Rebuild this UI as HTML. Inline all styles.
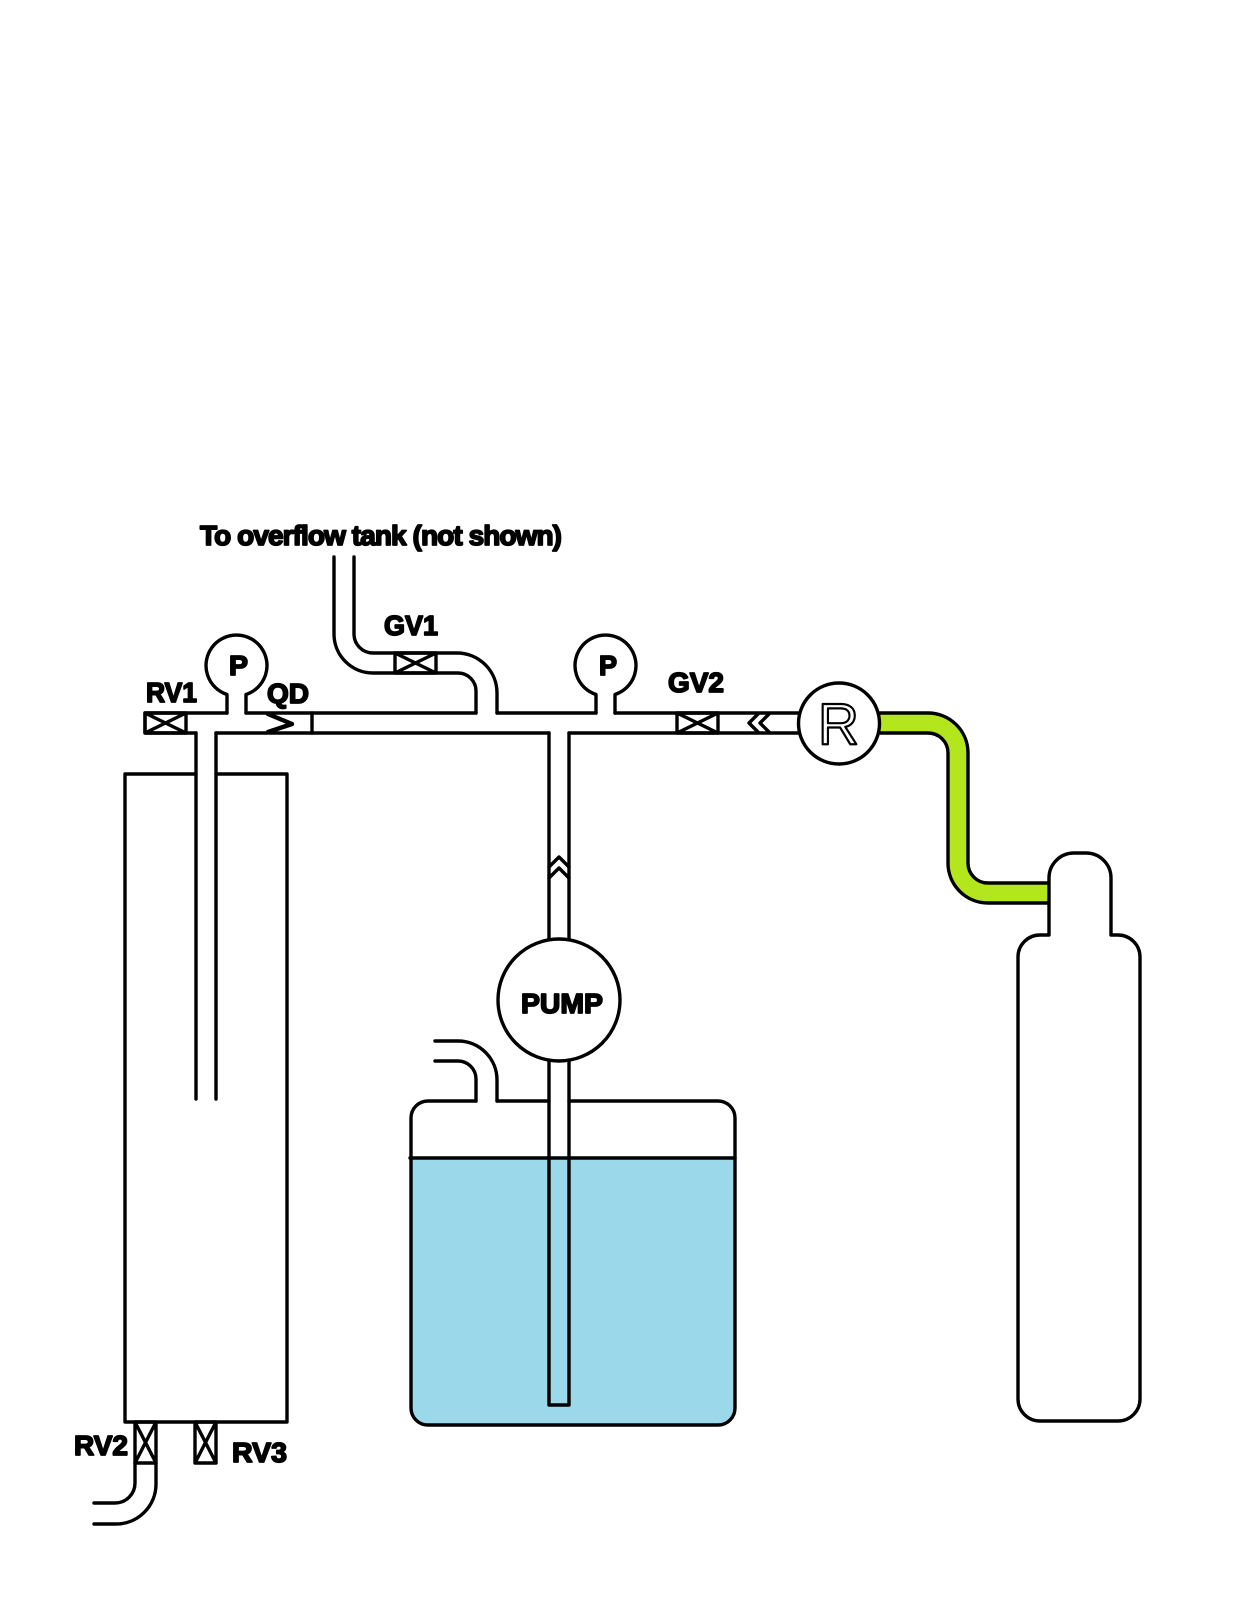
<!DOCTYPE html>
<html>
<head>
<meta charset="utf-8">
<style>
html,body{margin:0;padding:0;background:#fff}
svg{display:block}
text{font-family:"Liberation Sans",sans-serif;font-weight:bold;font-size:28px;fill:#000;stroke:#000;stroke-width:1.7;stroke-linejoin:round}
</style>
</head>
<body>
<svg width="1237" height="1600" viewBox="0 0 1237 1600" xmlns="http://www.w3.org/2000/svg">
<g fill="none" stroke="#000" stroke-width="3.4" stroke-linecap="round" stroke-linejoin="round">
  <!-- water -->
  <path d="M411 1158H735V1408a17 17 0 0 1-17 17H428a17 17 0 0 1-17-17Z" fill="#9bd9ea" stroke="none"/>
  <!-- water tank -->
  <path d="M476 1101H428a17 17 0 0 0-17 17V1408a17 17 0 0 0 17 17H718a17 17 0 0 0 17-17V1118a17 17 0 0 0-17-17H569M549 1101H497"/>
  <path d="M410 1158H735"/>
  <!-- tank inlet -->
  <path d="M435 1041H458a39 39 0 0 1 39 39V1101M435 1061H458a18 18 0 0 1 18 18V1101"/>
  <!-- pump pipe -->
  <path d="M549 733V939M569 733V939M549 1061V1405H569V1061"/>
  <!-- main line -->
  <path d="M227 713H145V733H196M246 713H476M497 713H596M615 713H798M216 733H549M569 733H798"/>
  <path d="M312 713V733"/>
  <!-- left column -->
  <path d="M196 733V1099M216 733V1099"/>
  <path d="M196 774H125V1422H287V774H216"/>
  <!-- gauges -->
  <path d="M227 713V694.5A30.5 30.5 0 1 1 246 694.5V713"/>
  <path d="M596 713V694.5A30.5 30.5 0 1 1 615 694.5V713"/>
  <!-- overflow pipe -->
  <path d="M334 557V634a39 39 0 0 0 39 39H458a18 18 0 0 1 18 18V713"/>
  <path d="M354 557V634a19 19 0 0 0 19 19H457a40 40 0 0 1 40 40V713"/>
  <!-- valves -->
  <path d="M145 713H186V733H145ZM145 713L186 733M186 713L145 733"/>
  <path d="M395 653H436V673H395ZM395 653L436 673M436 653L395 673"/>
  <path d="M677 713H718V733H677ZM677 713L718 733M718 713L677 733"/>
  <path d="M135 1422H156V1463H135ZM135 1422L156 1463M156 1422L135 1463"/>
  <path d="M195 1422H216V1463H195ZM195 1422L216 1463M216 1422L195 1463"/>
  <!-- check chevrons -->
  <path d="M268 714L292 724L268 732" stroke-width="4.4"/>
  <path d="M758 714L749 723L758 732M769 714L760 723L769 732"/>
  <path d="M549 867L559 857L569 867M549 878L559 868L569 878"/>
  <!-- RV2 outlet -->
  <path d="M135 1463V1483a20 20 0 0 1-20 20H94M156 1463V1484a40 40 0 0 1-40 40H94"/>
  <!-- green tube -->
  <path d="M880 723H928a30 30 0 0 1 30 30V863a30 30 0 0 0 30 30H1049" stroke="#b4e61e" stroke-width="18" stroke-linecap="butt"/>
  <path d="M880 713H928a40 40 0 0 1 40 40V863a20 20 0 0 0 20 20H1049"/>
  <path d="M880 733H928a20 20 0 0 1 20 20V863a40 40 0 0 0 40 40H1049"/>
  <!-- bottle -->
  <path d="M1049 935V878a25 25 0 0 1 25 -25H1086a25 25 0 0 1 25 25V935H1118a22 22 0 0 1 22 22V1399a22 22 0 0 1-22 22H1040a22 22 0 0 1-22-22V957a22 22 0 0 1 22-22Z" fill="#fff"/>
  <!-- circles -->
  <circle cx="839" cy="723.5" r="40.5" fill="#fff"/>
  <circle cx="559" cy="1000" r="61" fill="#fff"/>
</g>
<text x="200" y="545" textLength="362" lengthAdjust="spacing">To overflow tank (not shown)</text>
<text x="384" y="635" textLength="54" lengthAdjust="spacingAndGlyphs">GV1</text>
<text x="146" y="702" textLength="51" lengthAdjust="spacingAndGlyphs">RV1</text>
<text x="267" y="703" textLength="42" lengthAdjust="spacingAndGlyphs">QD</text>
<text x="229" y="675" textLength="19" lengthAdjust="spacingAndGlyphs">P</text>
<text x="599" y="675" textLength="18" lengthAdjust="spacingAndGlyphs">P</text>
<text x="668" y="692" textLength="56" lengthAdjust="spacingAndGlyphs">GV2</text>
<text x="521" y="1013" textLength="82" lengthAdjust="spacingAndGlyphs">PUMP</text>
<text x="74" y="1455" textLength="54" lengthAdjust="spacingAndGlyphs">RV2</text>
<text x="232" y="1462" textLength="55" lengthAdjust="spacingAndGlyphs">RV3</text>
<text x="818" y="744" textLength="41" lengthAdjust="spacingAndGlyphs" style="font-weight:normal;font-size:58px;fill:#fff;stroke:#000;stroke-width:2.2">R</text>
</svg>
</body>
</html>
